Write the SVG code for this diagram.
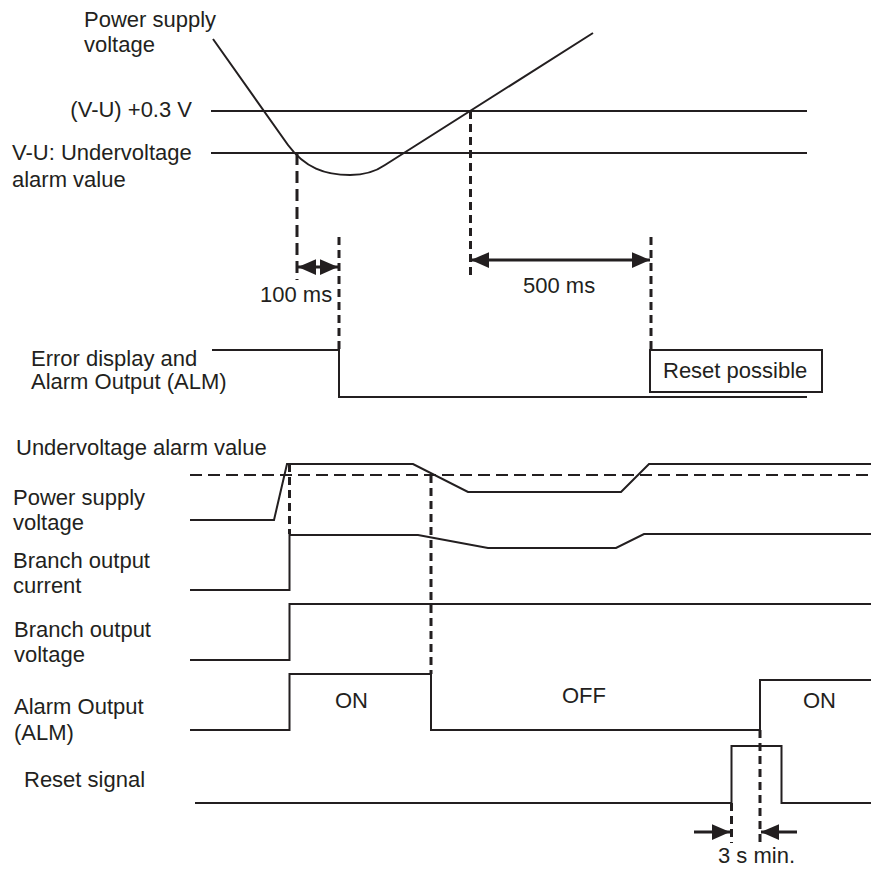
<svg xmlns="http://www.w3.org/2000/svg" width="871" height="872" viewBox="0 0 871 872">
<style>
text{font-family:"Liberation Sans",Arial,sans-serif;font-size:22px;fill:#231f20}
.w{fill:none;stroke:#231f20;stroke-width:2;stroke-linejoin:miter}
.d{fill:none;stroke:#231f20;stroke-width:3;stroke-dasharray:8 5}
.d1{fill:none;stroke:#231f20;stroke-width:3;stroke-dasharray:12 6}
.h{fill:none;stroke:#231f20;stroke-width:2;stroke-dasharray:12 6}
.a{fill:none;stroke:#231f20;stroke-width:3}
</style>
<defs>
<marker id="ah" markerUnits="userSpaceOnUse" markerWidth="18" markerHeight="18" viewBox="0 -8 16 16" refX="16" refY="0" orient="auto-start-reverse"><path d="M0,-7 L16,0 L0,7 Z" fill="#231f20"/></marker>
</defs>
<rect width="871" height="872" fill="#fff"/>

<g id="top-chart">
<g id="top-labels">
<text x="84" y="27">Power supply</text>
<text x="84" y="52">voltage</text>
<text x="192" y="117" text-anchor="end">(V-U) +0.3 V</text>
<text x="12" y="160">V-U: Undervoltage</text>
<text x="12" y="187">alarm value</text>
<text x="31" y="366">Error display and</text>
<text x="31" y="389">Alarm Output (ALM)</text>
</g>
<g id="top-levels">
<line class="w" x1="211" y1="111" x2="807" y2="111"/>
<line class="w" x1="211" y1="153" x2="807" y2="153"/>
<path class="w" d="M213,39 L288,145 C305,168 325,175 350,175 C365,175 375,172 385,165 L593,33"/>
</g>
<g id="error-display">
<path class="w" d="M212,350 H339 V397 H807"/>
</g>
<g id="reset-possible">
<rect x="650" y="350" width="172" height="42" fill="#fff" stroke="#231f20" stroke-width="2"/>
<text x="663" y="378">Reset possible</text>
</g>
</g>

<g id="bottom-chart">
<g id="bottom-labels">
<text x="16" y="455">Undervoltage alarm value</text>
<text x="13" y="505">Power supply</text>
<text x="13" y="530">voltage</text>
<text x="13" y="568">Branch output</text>
<text x="13" y="593">current</text>
<text x="14" y="637">Branch output</text>
<text x="14" y="662">voltage</text>
<text x="14" y="714">Alarm Output</text>
<text x="14" y="740">(ALM)</text>
<text x="24" y="787">Reset signal</text>
</g>
<g id="threshold">
<line class="h" x1="190" y1="475" x2="871" y2="475"/>
</g>
<g id="psu-voltage">
<path class="w" d="M190,520 H274 L287,464 H413 L468,492 H621 L649,464 H871"/>
</g>
<g id="branch-current">
<path class="w" d="M190,590 H289.5 V535 H418 L488,548 H616 L644,534 H871"/>
</g>
<g id="branch-voltage">
<path class="w" d="M190,660 H289.5 V604 H871"/>
</g>
<g id="alarm-output">
<path class="w" d="M190,730 H289.5 V674 H431 V730 H760 V680 H871"/>
<text x="335" y="708">ON</text>
<text x="562" y="703">OFF</text>
<text x="803" y="708">ON</text>
</g>
<g id="reset-signal">
<path class="w" d="M195,803 H731.5 V746 H781.5 V803 H871"/>
</g>
</g>

<g id="connectors">
<line class="d1" x1="297" y1="153" x2="297" y2="280"/>
<line class="d" x1="339" y1="237" x2="339" y2="350"/>
<line class="d" x1="470.5" y1="111" x2="470.5" y2="279"/>
<line class="d" x1="651" y1="237" x2="651" y2="350"/>
<line class="a" x1="298" y1="267" x2="338" y2="267" marker-start="url(#ah)" marker-end="url(#ah)"/>
<line class="a" x1="471" y1="260" x2="650" y2="260" marker-start="url(#ah)" marker-end="url(#ah)"/>
<line class="d" x1="289.5" y1="464" x2="289.5" y2="534"/>
<line class="d" x1="431" y1="475" x2="431" y2="674"/>
<line class="d" x1="760" y1="730" x2="760" y2="843"/>
<line class="d" x1="731.5" y1="803" x2="731.5" y2="843"/>
<line class="a" x1="694" y1="832" x2="730" y2="832" marker-end="url(#ah)"/>
<line class="a" x1="797" y1="832" x2="761" y2="832" marker-end="url(#ah)"/>
<text x="718" y="863">3 s min.</text>
<text x="260" y="302">100 ms</text>
<text x="523" y="293">500 ms</text>
</g>
</svg>
